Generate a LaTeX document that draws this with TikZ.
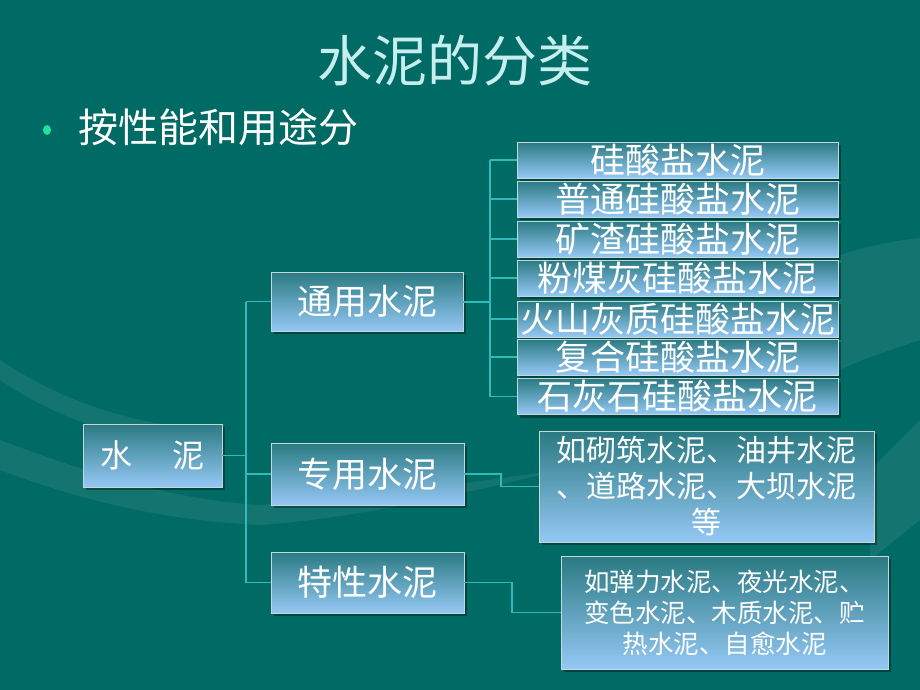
\documentclass[tikz,border=0pt]{standalone}
\usepackage{fontspec}
\setmainfont{Noto Sans CJK SC}
\usetikzlibrary{shadows}
\definecolor{bg}{HTML}{006A64}
\definecolor{boxtop}{HTML}{2A7A82}
\definecolor{boxbot}{HTML}{95C8F5}
\definecolor{boxedge}{HTML}{C4D8DC}
\definecolor{conn}{HTML}{30BABA}
\definecolor{titlec}{HTML}{C6EEEE}
\definecolor{bulletc}{HTML}{22E0A0}
\tikzset{
  box/.style={draw=boxedge, line width=0.9pt, top color=boxtop, bottom color=boxbot,
    inner sep=0pt, text=white, align=center,
    drop shadow={shadow xshift=3pt, shadow yshift=-3pt, fill=black, opacity=0.35}},
  link/.style={draw=conn, line width=1.4pt},
  swoosh/.style={fill=white, opacity=0.08}
}
\begin{document}
\begin{tikzpicture}[x=1pt,y=-1pt]
\useasboundingbox (0,0) rectangle (920,690);
\fill[bg] (0,0) rectangle (920,690);
% faint background swooshes
\fill[swoosh] (0,470) .. controls (80,500) and (160,520) .. (260,525)
  .. controls (330,520) and (420,505) .. (560,470)
  .. controls (420,490) and (330,500) .. (260,505)
  .. controls (170,500) and (80,470) .. (0,440) -- cycle;
\fill[swoosh] (0,380) .. controls (60,420) and (120,440) .. (200,445)
  -- (200,430) .. controls (120,420) and (60,400) .. (0,360) -- cycle;
\fill[swoosh] (840,255) .. controls (870,245) and (900,240) .. (920,238)
  -- (920,340) .. controls (890,350) and (860,360) .. (840,370) -- cycle;
\fill[swoosh] (870,560) -- (920,520) -- (920,420) -- (870,470) -- cycle;

% title and bullet
\node[text=titlec, font=\fontsize{55}{62}\selectfont] (title) at (455,61) {水泥的分类};
\fill[bulletc] (47,130) ellipse (4 and 5);
\coordinate (bulletpt) at (47,130);
\node[text=white, anchor=west, font=\fontsize{40}{46}\selectfont, inner sep=0pt] (sub) at (78,127) {按性能和用途分};

% level 0 / 1
\node[box, minimum width=139pt, minimum height=63pt, font=\fontsize{32}{38}\selectfont] (root) at (152.5,455.5) {水\hspace{40pt}泥};
\node[box, minimum width=192pt, minimum height=59pt, font=\fontsize{35}{40}\selectfont] (g1) at (367,301.5) {通用水泥};
\node[box, minimum width=193pt, minimum height=62pt, font=\fontsize{35}{40}\selectfont] (g2) at (367.5,474) {专用水泥};
\node[box, minimum width=193pt, minimum height=61pt, font=\fontsize{35}{40}\selectfont] (g3) at (367.5,582.5) {特性水泥};

% level 2 (general-purpose)
\tikzset{cbox/.style={box, minimum width=321pt, minimum height=36pt, font=\fontsize{35}{36}\selectfont}}
\node[cbox] (c1) at (677.5,160) {硅酸盐水泥};
\node[cbox] (c2) at (677.5,199) {普通硅酸盐水泥};
\node[cbox] (c3) at (677.5,239) {矿渣硅酸盐水泥};
\node[cbox] (c4) at (677.5,278) {粉煤灰硅酸盐水泥};
\node[cbox] (c5) at (677.5,319) {火山灰质硅酸盐水泥};
\node[cbox] (c6) at (677.5,357) {复合硅酸盐水泥};
\node[cbox] (c7) at (677.5,396.5) {石灰石硅酸盐水泥};

% detail boxes
\node[box, minimum width=335pt, minimum height=111pt, font=\fontsize{30}{36}\selectfont] (d1) at (706.5,486.5)
  {如砌筑水泥、油井水泥\\、道路水泥、大坝水泥\\等};
\node[box, minimum width=327pt, minimum height=113pt, font=\fontsize{25.5}{31}\selectfont] (d2) at (724.5,612.5)
  {如弹力水泥、夜光水泥、\\变色水泥、木质水泥、贮\\热水泥、自愈水泥};

% connectors
\coordinate (trunk) at (246,0);
\coordinate (bus) at (490,0);
\coordinate (k2) at (501,0);
\coordinate (k3) at (512,0);
\draw[link] (root.east) -- (root.east -| trunk);
\draw[link] (g1.west -| trunk) -- (g3.west -| trunk);
\draw[link] (g1.west -| trunk) -- (g1.west);
\draw[link] (g2.west -| trunk) -- (g2.west);
\draw[link] (g3.west -| trunk) -- (g3.west);

\draw[link, line width=2pt] (g1.east) -- (g1.east -| bus);
\draw[link] (c1.west -| bus) -- (c7.west -| bus);
\foreach \c in {c1,c2,c3,c4,c5,c6,c7}
  \draw[link] (\c.west -| bus) -- (\c.west);

\draw[link] (g2.east) -- (g2.east -| k2) -- (d1.west -| k2) -- (d1.west);
\draw[link] (g3.east) -- (g3.east -| k3) -- (d2.west -| k3) -- (d2.west);
\end{tikzpicture}
\end{document}
